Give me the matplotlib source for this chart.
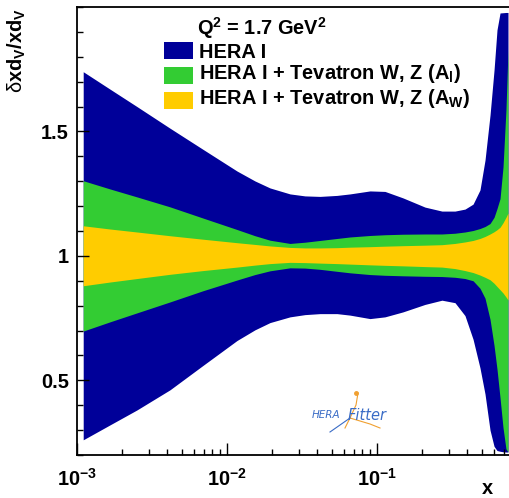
import numpy as np
import matplotlib
matplotlib.use("Agg")
import matplotlib.pyplot as plt
from matplotlib.patches import Rectangle
from matplotlib.lines import Line2D
from matplotlib.ticker import FixedLocator, FixedFormatter, NullFormatter, LogLocator, MultipleLocator

plt.rcParams['font.family'] = ['Liberation Sans', 'DejaVu Sans']
plt.rcParams['mathtext.fontset'] = 'custom'
plt.rcParams['mathtext.rm'] = 'Liberation Sans:bold'
plt.rcParams['mathtext.it'] = 'Liberation Sans:bold'
plt.rcParams['mathtext.bf'] = 'Liberation Sans:bold'
plt.rcParams['mathtext.sf'] = 'Liberation Sans'

# ---- data ----
x = [0.0011, 0.00166, 0.00251, 0.00417, 0.00692, 0.01166, 0.01537, 0.01935, 0.0263, 0.0331,
     0.0417, 0.0541, 0.0661, 0.0898, 0.113, 0.149, 0.209, 0.271, 0.331, 0.386,
     0.437, 0.486, 0.525, 0.567, 0.603, 0.631, 0.661, 0.692, 0.724, 0.747]

hera_up = [1.740, 1.670, 1.600, 1.513, 1.428, 1.341, 1.301, 1.273, 1.249, 1.241,
           1.239, 1.243, 1.249, 1.261, 1.259, 1.233, 1.196, 1.180, 1.180, 1.188,
           1.208, 1.265, 1.385, 1.566, 1.747, 1.908, 1.976, 1.977, 1.978, 1.978]
hera_dn = [0.261, 0.321, 0.381, 0.462, 0.560, 0.660, 0.703, 0.732, 0.755, 0.764,
           0.768, 0.768, 0.762, 0.748, 0.755, 0.775, 0.805, 0.822, 0.812, 0.760,
           0.665, 0.550, 0.445, 0.300, 0.235, 0.218, 0.215, 0.213, 0.212, 0.212]

al_up = [1.302, 1.269, 1.237, 1.197, 1.152, 1.106, 1.081, 1.063, 1.050, 1.055,
         1.062, 1.070, 1.076, 1.082, 1.085, 1.087, 1.088, 1.088, 1.091, 1.096,
         1.102, 1.110, 1.118, 1.130, 1.155, 1.190, 1.230, 1.357, 1.586, 1.827]
al_dn = [0.698, 0.735, 0.771, 0.815, 0.860, 0.903, 0.925, 0.940, 0.952, 0.951,
         0.946, 0.938, 0.932, 0.925, 0.922, 0.920, 0.918, 0.917, 0.914, 0.909,
         0.900, 0.870, 0.830, 0.745, 0.640, 0.545, 0.430, 0.310, 0.225, 0.212]

aw_up = [1.121, 1.108, 1.096, 1.081, 1.067, 1.053, 1.046, 1.040, 1.034, 1.032,
         1.032, 1.033, 1.035, 1.037, 1.039, 1.041, 1.043, 1.045, 1.050, 1.056,
         1.062, 1.070, 1.078, 1.088, 1.097, 1.105, 1.115, 1.133, 1.155, 1.172]
aw_dn = [0.880, 0.895, 0.909, 0.926, 0.941, 0.955, 0.963, 0.969, 0.974, 0.973,
         0.971, 0.969, 0.967, 0.964, 0.962, 0.960, 0.957, 0.955, 0.949, 0.941,
         0.933, 0.923, 0.914, 0.904, 0.890, 0.877, 0.864, 0.851, 0.835, 0.823]

labels = ["HERA I",
          r"HERA I + Tevatron W, Z (A$_\mathdefault{l}$)",
          r"HERA I + Tevatron W, Z (A$_\mathdefault{W}$)"]
colors = ["#000099", "#33CC33", "#FFCC00"]
title = r"Q$^\mathdefault{2}$ = 1.7 GeV$^\mathdefault{2}$"

xticks = [1e-3, 1e-2, 1e-1]
xticklabels = [r"10$^\mathdefault{-3}$", r"10$^\mathdefault{-2}$", r"10$^\mathdefault{-1}$"]
yticks = [0.5, 1.0, 1.5]
yticklabels = ["0.5", "1", "1.5"]

W, H = 509, 498
fig = plt.figure(figsize=(W / 100, H / 100), dpi=100)

def fx(px):
    return px / W

def fy(py):
    return 1 - py / H

ax = fig.add_axes([fx(77), fy(455), fx(509) - fx(77), fy(7) - fy(455)])
ax.set_xscale('log')
ax.set_xlim(1e-3, 0.7586)
ax.set_ylim(0.2, 2.0)

bands = [(hera_dn, hera_up), (al_dn, al_up), (aw_dn, aw_up)]
for (dn, up), c, lab in zip(bands, colors, labels):
    ax.fill_between(x, dn, up, color=c, lw=0, label=lab)

ax.xaxis.set_major_locator(FixedLocator(xticks))
ax.xaxis.set_major_formatter(FixedFormatter(xticklabels))
ax.xaxis.set_minor_locator(LogLocator(base=10, subs=np.arange(2, 10)))
ax.xaxis.set_minor_formatter(NullFormatter())
ax.yaxis.set_major_locator(FixedLocator(yticks))
ax.yaxis.set_major_formatter(FixedFormatter(yticklabels))
ax.yaxis.set_minor_locator(MultipleLocator(0.1))

ax.tick_params(which='both', direction='in', width=1.0, top=False, right=False)
ax.tick_params(which='major', length=8.6)
ax.tick_params(which='minor', length=4.3)
ax.tick_params(axis='x', which='major', pad=9, labelsize=14.4)
ax.tick_params(axis='y', which='major', pad=6, labelsize=14.4)
for lab in ax.get_xticklabels() + ax.get_yticklabels():
    lab.set_fontweight('bold')
for s in ['left', 'bottom', 'top']:
    ax.spines[s].set_linewidth(1.3)
ax.spines['right'].set_visible(False)

# axis titles
fig.text(fx(17), fy(8), r"$\mathsf{\delta}$xd$_\mathdefault{V}$/xd$_\mathdefault{V}$",
         rotation=90, ha='center', va='top', fontsize=14.4, fontweight='bold')
fig.text(fx(487), fy(494), "x", ha='center', va='baseline', fontsize=14.4, fontweight='bold')

# legend
fig.text(fx(197), fy(35), title, ha='left', va='baseline', fontsize=14.4, fontweight='bold')
boxes = [(42.3, 59.3), (66.7, 84.3), (92.3, 109.3)]
baselines = [58.3, 79.3, 104.0]
for (t, b), c, lab, bl in zip(boxes, colors, labels, baselines):
    fig.add_artist(Rectangle((fx(164), fy(b)), fx(193) - fx(164), fy(t) - fy(b),
                             transform=fig.transFigure, color=c, lw=0))
    fig.text(fx(199), fy(bl), lab, ha='left', va='baseline', fontsize=14.4, fontweight='bold')

# HERAFitter logo (decoration)
logo_blue = '#3a6cc6'
logo_orange = '#f0a030'
fig.text(fx(326), fy(418), "HERA", ha='center', va='baseline', fontsize=7.5,
         style='italic', color=logo_blue, family='DejaVu Sans')
fig.text(fx(367), fy(420), "Fitter", ha='center', va='baseline', fontsize=10.5,
         style='italic', color=logo_blue, family='DejaVu Sans')
fig.add_artist(Line2D([fx(358), fx(356), fx(350), fx(345)], [fy(393), fy(405), fy(418), fy(428)],
                      transform=fig.transFigure, color=logo_orange, lw=0.8))
fig.add_artist(Line2D([fx(350), fx(370), fx(380)], [fy(418), fy(424), fy(428)],
                      transform=fig.transFigure, color=logo_orange, lw=0.8))
fig.add_artist(Line2D([fx(350), fx(340), fx(330)], [fy(418), fy(425), fy(432)],
                      transform=fig.transFigure, color=logo_blue, lw=0.8))
fig.add_artist(Line2D([fx(356)], [fy(393)], transform=fig.transFigure, color=logo_orange,
                      marker='o', ms=2.5, lw=0))

fig.savefig("out.png", dpi=100)
